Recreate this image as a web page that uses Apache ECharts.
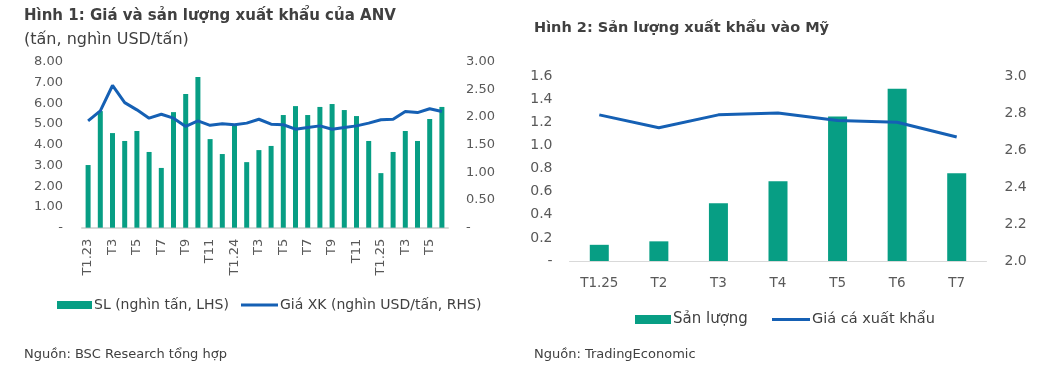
<!DOCTYPE html>
<html>
<head>
<meta charset="utf-8">
<script src="https://cdn.jsdelivr.net/npm/echarts@6/dist/echarts.min.js"></script>
<style>
html,body{margin:0;padding:0;background:#fff;}
#c{width:1037px;height:369px;}
</style>
</head>
<body>
<div id="c"></div>
<script>
// ---- Chart 1 data ----
const months1 = ["T1.23","T2","T3","T4","T5","T6","T7","T8","T9","T10","T11","T12",
                 "T1.24","T2","T3","T4","T5","T6","T7","T8","T9","T10","T11","T12",
                 "T1.25","T2","T3","T4","T5","T6"];
const volume1 = [3.02,5.62,4.56,4.18,4.66,3.65,2.88,5.57,6.44,7.26,4.27,3.55,
                 4.95,3.16,3.74,3.94,5.43,5.86,5.43,5.82,5.96,5.67,5.38,4.18,
                 2.63,3.65,4.66,4.18,5.24,5.82];
const price1 = [1.93,2.11,2.57,2.26,2.13,1.98,2.05,1.98,1.83,1.93,1.85,1.88,
                1.86,1.89,1.96,1.87,1.86,1.78,1.81,1.84,1.78,1.81,1.84,1.89,
                1.95,1.96,2.10,2.08,2.15,2.10];
// ---- Chart 2 data ----
const months2 = ["T1.25","T2","T3","T4","T5","T6","T7"];
const volume2 = [0.14,0.17,0.50,0.69,1.25,1.49,0.76];
const price2 = [2.79,2.72,2.79,2.80,2.76,2.75,2.67];

const title1 = "Hình 1: Giá và sản lượng xuất khẩu của ANV";
const subtitle1 = "(tấn, nghìn USD/tấn)";
const title2 = "Hình 2: Sản lượng xuất khẩu vào Mỹ";
const source1 = "Nguồn: BSC Research tổng hợp";
const source2 = "Nguồn: TradingEconomic";
const legend1 = ["SL (nghìn tấn, LHS)","Giá XK (nghìn USD/tấn, RHS)"];
const legend2 = ["Sản lượng","Giá cá xuất khẩu"];

const GREEN = "#079e84";
const BLUE = "#1560b4";
const TXT = "#404040";
const TICK = "#595959";
const NUMF = "'DejaVu Sans', sans-serif";
const TF = "'DejaVu Sans', sans-serif";

const chart = echarts.init(document.getElementById('c'), null, {renderer:'canvas'});
const dash = (v, d) => v === 0 ? '-' : v.toFixed(d);

function leg(name, left, top, w, h, color, size){
  return {data:[{name:name, icon:'rect', itemStyle:{color:color}}], left:left, top:top,
    itemWidth:w, itemHeight:h, padding:0,
    textStyle:{fontFamily:TF, fontSize:size, color:TXT, padding:[0,0,0,-3]}};
}

chart.setOption({
  animation:false,
  title:[
    {text:title1, left:19, top:4, textStyle:{fontFamily:TF,fontSize:15,fontWeight:'bold',color:TXT}},
    {text:subtitle1, left:19, top:27, textStyle:{fontFamily:TF,fontSize:16,fontWeight:'normal',color:TXT}},
    {text:title2, left:529, top:16, textStyle:{fontFamily:TF,fontSize:14.5,fontWeight:'bold',color:TXT}},
    {text:source1, left:19, top:343, textStyle:{fontFamily:TF,fontSize:13,fontWeight:'normal',color:TXT}},
    {text:source2, left:529, top:343, textStyle:{fontFamily:TF,fontSize:13,fontWeight:'normal',color:TXT}}
  ],
  legend:[
    leg(legend1[0], 57, 298, 35, 8, GREEN, 14),
    leg(legend1[1], 241, 298, 37, 3, BLUE, 14),
    leg(legend2[0], 635, 312, 36, 9, GREEN, 15),
    leg(legend2[1], 772, 312, 38, 3, BLUE, 14.5)
  ],
  grid:[
    {left:82, right:589, top:61.7, bottom:141.3},
    {left:569.5, right:50.5, top:76, bottom:108}
  ],
  xAxis:[
    {type:'category', gridIndex:0, data:months1, boundaryGap:true,
     axisLine:{lineStyle:{color:'#d9d9d9',width:2}}, axisTick:{show:false},
     axisLabel:{interval:1, rotate:90, margin:11, fontFamily:NUMF, fontSize:13, color:TICK}},
    {type:'category', gridIndex:1, data:months2, boundaryGap:true,
     axisLine:{lineStyle:{color:'#d9d9d9',width:1}}, axisTick:{show:false},
     axisLabel:{margin:15, fontFamily:NUMF, fontSize:13.5, color:TICK}}
  ],
  yAxis:[
    {type:'value', gridIndex:0, min:0, max:8, interval:1, splitLine:{show:false},
     axisLabel:{formatter:v=>dash(v,2), margin:19, fontFamily:NUMF, fontSize:13, color:TICK}},
    {type:'value', gridIndex:0, min:0, max:3, interval:0.5, position:'right', splitLine:{show:false},
     axisLabel:{formatter:v=>dash(v,2), margin:18, fontFamily:NUMF, fontSize:13, color:TICK}},
    {type:'value', gridIndex:1, min:0, max:1.6, interval:0.2, splitLine:{show:false},
     axisLabel:{formatter:v=>dash(v,1), margin:17, fontFamily:NUMF, fontSize:14, color:TICK}},
    {type:'value', gridIndex:1, min:2.0, max:3.0, interval:0.2, position:'right', splitLine:{show:false},
     axisLabel:{formatter:v=>v.toFixed(1), margin:18, fontFamily:NUMF, fontSize:14, color:TICK}}
  ],
  series:[
    {name:legend1[0], type:'bar', xAxisIndex:0, yAxisIndex:0, data:volume1, barWidth:5, itemStyle:{color:GREEN}},
    {name:legend1[1], type:'line', xAxisIndex:0, yAxisIndex:1, data:price1, symbol:'none', lineStyle:{color:BLUE,width:3}, itemStyle:{color:BLUE}},
    {name:legend2[0], type:'bar', xAxisIndex:1, yAxisIndex:2, data:volume2, barWidth:19, itemStyle:{color:GREEN}},
    {name:legend2[1], type:'line', xAxisIndex:1, yAxisIndex:3, data:price2, symbol:'none', lineStyle:{color:BLUE,width:3}, itemStyle:{color:BLUE}}
  ]
});
</script>
</body>
</html>
